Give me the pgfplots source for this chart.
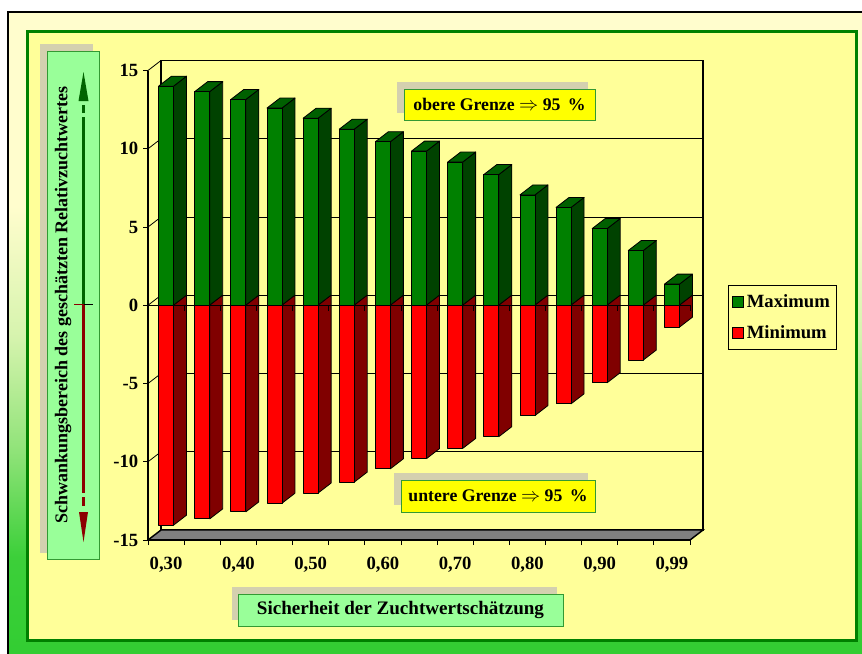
\documentclass[border=0pt]{standalone}
\usepackage{pgfplots}
\pgfplotsset{compat=1.18}
\usepackage{pgfplotstable}
\usepackage{fontspec}
\setmainfont{Liberation Serif}

\definecolor{panel}{RGB}{255,255,153}
\definecolor{frontG}{RGB}{0,128,0}
\definecolor{sideG}{RGB}{0,66,0}
\definecolor{topG}{RGB}{0,96,0}
\definecolor{frontR}{RGB}{255,0,0}
\definecolor{sideR}{RGB}{128,0,0}
\definecolor{boxgreen}{RGB}{153,255,153}
\definecolor{frameG}{RGB}{0,128,0}
\definecolor{boxframe}{RGB}{51,153,51}
\definecolor{shadowc}{RGB}{212,208,175}
\definecolor{cream}{RGB}{255,253,205}
\definecolor{bgreen}{RGB}{50,205,50}
\definecolor{annoY}{RGB}{255,255,0}
\definecolor{floorc}{RGB}{128,128,128}
\definecolor{arrG}{RGB}{0,100,0}
\definecolor{arrR}{RGB}{140,0,0}

\pgfdeclareverticalshading{bgshade}{100bp}{color(0bp)=(bgreen); color(25bp)=(bgreen); color(33bp)=(bgreen!95!cream); color(41bp)=(bgreen!55!cream); color(50bp)=(bgreen!20!cream); color(60bp)=(cream); color(100bp)=(cream)}

\pgfplotstableread{
x maxv minv
0 14.0 -14.05
1 13.65 -13.65
2 13.15 -13.2
3 12.6 -12.65
4 11.95 -12.0
5 11.25 -11.3
6 10.45 -10.45
7 9.85 -9.8
8 9.15 -9.15
9 8.35 -8.4
10 7.05 -7.05
11 6.25 -6.3
12 4.9 -4.95
13 3.5 -3.5
14 1.35 -1.4
}\datatable

\newdimen\barh \newdimen\barhh
\def\barshape#1#2#3{%
  \pgfmathsetlength\barh{-11.7375*(\barval)}%
  \barhh=\barh \advance\barhh by 7.5pt
  \pgfsetlinewidth{0.6pt}\pgfsetstrokecolor{black}\pgfsetroundjoin
  \pgfsetfillcolor{#2}%
  \pgfpathmoveto{\pgfqpoint{5.625pt}{0pt}}%
  \pgfpathlineto{\pgfqpoint{15.375pt}{7.5pt}}%
  \pgfpathlineto{\pgfqpoint{15.375pt}{\barhh}}%
  \pgfpathlineto{\pgfqpoint{5.625pt}{\barh}}%
  \pgfpathclose\pgfusepath{fill,stroke}%
  \ifdim\barh<0pt
    \pgfsetfillcolor{#3}%
    \pgfpathmoveto{\pgfqpoint{-5.625pt}{0pt}}%
    \pgfpathlineto{\pgfqpoint{5.625pt}{0pt}}%
    \pgfpathlineto{\pgfqpoint{15.375pt}{7.5pt}}%
    \pgfpathlineto{\pgfqpoint{4.125pt}{7.5pt}}%
    \pgfpathclose\pgfusepath{fill,stroke}%
  \fi
  \pgfsetfillcolor{#1}%
  \pgfpathrectanglecorners{\pgfqpoint{-5.625pt}{0pt}}{\pgfqpoint{5.625pt}{\barh}}%
  \pgfusepath{fill,stroke}%
}
\def\barval{0}
\pgfdeclareplotmark{greenbar}{\barshape{frontG}{sideG}{topG}}
\pgfdeclareplotmark{redbar}{\barshape{frontR}{sideR}{topG}}

\newcommand\fs[1]{\fontsize{#1}{#1}\selectfont\bfseries}

\begin{document}
\begin{tikzpicture}[x=0.75pt,y=-0.75pt]
\path[use as bounding box] (0,0) rectangle (862,653);
\clip (0,0) rectangle (862,653);
\fill[white] (0,0) rectangle (862,653);
\shade[shading=bgshade] (8,12) rectangle (870,660);
\draw[line width=1.5pt] (8,665) -- (8,12) -- (870,12);
\filldraw[fill=panel, draw=frameG, line width=2.25pt] (27,31) rectangle (856,640);

% y label box
\fill[shadowc] (40,44) rectangle (93,553);
\filldraw[fill=boxgreen, draw=boxframe, line width=0.75pt] (47,51) rectangle (99,559);
\node[rotate=90, font=\fs{13.5pt}] at (63,305) {Schwankungsbereich des geschätzten Relativzuchtwertes};
\draw[arrG, line width=2.25pt] (83.5,304) -- (83.5,117);
\draw[arrG, line width=2.25pt] (83.5,113) -- (83.5,105);
\fill[arrG] (83.5,72) -- (88.5,101) -- (78.5,101) -- cycle;
\draw[arrR, line width=2.25pt] (83.5,304) -- (83.5,493);
\draw[arrR, line width=2.25pt] (83.5,497) -- (83.5,506);
\fill[arrR] (83.5,542) -- (88,512) -- (79,512) -- cycle;
\draw[arrR, line width=0.75pt] (74,304) -- (84,304);
\draw[black, line width=0.75pt] (84,304) -- (93,304);

% x label box
\fill[shadowc] (232,587) rectangle (557,620);
\filldraw[fill=boxgreen, draw=boxframe, line width=0.75pt] (238,594) rectangle (563,626);
\node[font=\fs{14.3pt}] at (400.5,610) {Sicherheit der Zuchtwertschätzung};

% back wall
\begin{axis}[
  at={(120.75pt,-397.5pt)}, anchor=south west, scale only axis,
  width=406.5pt, height=352.125pt,
  xmin=-0.5, xmax=14.5, ymin=-15, ymax=15,
  xtick=\empty, ytick={-10,-5,0,5,10}, yticklabels={},
  major tick length=0pt,
  ymajorgrids, grid style={black, line width=0.6pt},
  axis line style={black, line width=0.8pt},
]
\end{axis}

% floor and diagonals
\filldraw[fill=floorc, draw=black, line width=1.1pt] (148,540) -- (690,540) -- (703,530) -- (161,530) -- cycle;
\foreach \v in {-10,-5,0,5,10,15}
  \draw[line width=0.6pt] (148,{305.25-\v*15.65}) -- (161,{295.25-\v*15.65});

% annotation boxes
\fill[shadowc] (397,82) rectangle (588,113);
\filldraw[fill=annoY, draw=boxframe, line width=0.75pt] (404,89) rectangle (595,120);
\node[font=\fs{13.3pt}] at (499.5,104.5) {obere Grenze $\Rightarrow$ 95\, \%};
\fill[shadowc] (394,473) rectangle (588,505);
\filldraw[fill=annoY, draw=boxframe, line width=0.75pt] (401,480) rectangle (595,512);
\node[font=\fs{13.3pt}] at (498,496) {untere Grenze $\Rightarrow$ 95\, \%};

% front axis with bars
\begin{axis}[
  at={(111pt,-405pt)}, anchor=south west, scale only axis,
  width=406.5pt, height=352.125pt,
  xmin=-0.5, xmax=14.5, ymin=-15, ymax=15,
  axis x line*=bottom, axis y line*=left,
  axis line style={black, line width=0.8pt, -},
  xtick={-0.5,0.5,...,14.5}, xticklabels={},
  extra x ticks={0,2,4,6,8,10,12,14},
  extra x tick labels={{0,30},{0,40},{0,50},{0,60},{0,70},{0,80},{0,90},{0,99}},
  extra x tick style={major tick length=0pt},
  xticklabel style={yshift=-9.5pt},
  ytick={-15,-10,-5,0,5,10,15},
  yticklabels={-15,-10,-5,0,5,10,15},
  tick align=outside, major tick length=3.75pt,
  tick style={black, line width=0.6pt},
  ticklabel style={font=\fs{14pt}},
  clip=false,
  legend style={at={(1.0701,0.5431)}, anchor=north west, draw=black, line width=0.6pt,
    fill=panel, font=\fs{14pt}, inner xsep=3pt, inner ysep=4.5pt, row sep=8.5pt},
  legend cell align=left,
]
\addplot[scatter, only marks, mark=greenbar,
  visualization depends on={\thisrow{maxv} \as \barval},
  legend image code/.code={\draw[black, line width=0.6pt, fill=frontG] (0pt,-4.1pt) rectangle (8.25pt,4.1pt);}]
  table[x=x, y=maxv] {\datatable};
\addlegendentry{Maximum}
\addplot[scatter, only marks, mark=redbar,
  visualization depends on={\thisrow{minv} \as \barval},
  legend image code/.code={\draw[black, line width=0.6pt, fill=frontR] (0pt,-4.1pt) rectangle (8.25pt,4.1pt);}]
  table[x=x, y=minv] {\datatable};
\addlegendentry{Minimum}
\end{axis}

% category axis at zero
\draw[black, line width=0.6pt] (148,305.25) -- (690,305.25);
\foreach \k in {0,...,15}
  \draw[black, line width=0.6pt] ({148+36.1333*\k},305.25) -- ++(0,6);
\end{tikzpicture}
\end{document}
